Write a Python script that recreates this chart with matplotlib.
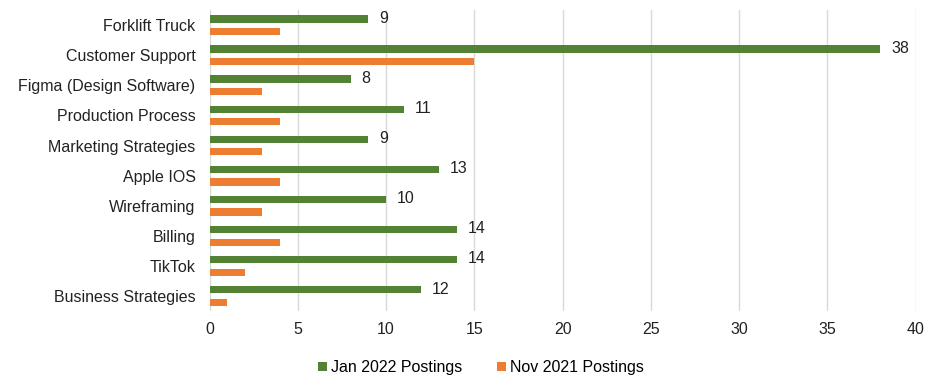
import matplotlib
matplotlib.use("Agg")
import matplotlib.pyplot as plt
import numpy as np

categories = ["Forklift Truck", "Customer Support", "Figma (Design Software)",
              "Production Process", "Marketing Strategies", "Apple IOS",
              "Wireframing", "Billing", "TikTok", "Business Strategies"]
jan_2022 = [9, 38, 8, 11, 9, 13, 10, 14, 14, 12]
nov_2021 = [4, 15, 3, 4, 3, 4, 3, 4, 2, 1]
x_ticks = [0, 5, 10, 15, 20, 25, 30, 35, 40]

plt.rcParams['font.family'] = ['Liberation Sans', 'DejaVu Sans']

fig = plt.figure(figsize=(9.25, 3.77), dpi=100)
ax = fig.add_axes([0.2265, 0.175, 0.7635, 0.798])

y = np.arange(len(categories))
h = 0.24
off = 0.21
green = "#548235"
orange = "#ED7D31"
ax.barh(y - off, jan_2022, height=h, color=green, label="Jan 2022 Postings", zorder=3)
ax.barh(y + off, nov_2021, height=h, color=orange, label="Nov 2021 Postings", zorder=3)

fs = 11.5
for yi, v in zip(y, jan_2022):
    ax.text(v + 0.6, yi - off - 0.02, str(v), va="center", ha="left", fontsize=fs, color="#222222")

ax.set_xlim(0, 40)
ax.set_ylim(len(categories) - 0.5, -0.5)
ax.set_yticks(y)
ax.set_yticklabels(categories, fontsize=fs, color="#222222")
ax.set_xticks(x_ticks)
ax.set_xticklabels([str(t) for t in x_ticks], fontsize=fs, color="#222222")
ax.tick_params(axis="both", length=0)
ax.tick_params(axis="y", pad=10)
ax.tick_params(axis="x", pad=8)
for s in ax.spines.values():
    s.set_visible(False)
ax.grid(axis="x", color="#d9d9d9", linewidth=1, zorder=0)

handles, labels = ax.get_legend_handles_labels()
fig.legend(handles, labels, loc="center", bbox_to_anchor=(0.52, 0.025), ncol=2,
           frameon=False, fontsize=fs, handlelength=0.55, handleheight=0.55,
           handletextpad=0.25, columnspacing=2.2)

fig.savefig("out.png", dpi=100)
